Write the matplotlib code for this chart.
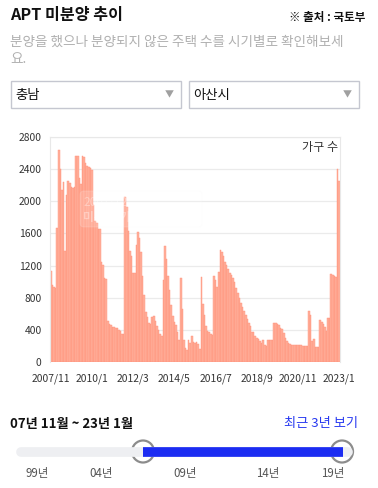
import matplotlib.pyplot as plt
from matplotlib.patches import FancyBboxPatch, Rectangle, Circle

plt.rcParams['font.family'] = ['Noto Sans CJK KR', 'DejaVu Sans']

# monthly unsold apartments (units), 2007/11 .. 2023/1
units = [
    1130, 960, 930, 920, 1670, 2640, 2400, 2145, 2240, 1380,
    2080, 2255, 2225, 2180, 2165, 2175, 2565, 2565, 2290, 2215,
    2560, 2545, 2475, 2445, 2425, 2410, 2395, 1955, 1750, 1725,
    1660, 1650, 1240, 1210, 1050, 1030, 515, 476, 455, 439,
    439, 418, 418, 400, 385, 352, 344, 2050, 1925, 1635,
    1387, 1325, 1110, 1110, 1450, 1620, 1545, 1370, 1076, 840,
    621, 560, 480, 468, 555, 575, 505, 443, 400, 350,
    320, 1018, 1449, 1288, 1076, 902, 704, 571, 500, 455,
    373, 269, 1050, 660, 268, 178, 150, 280, 240, 320,
    250, 240, 245, 228, 160, 1055, 720, 590, 443, 390,
    377, 344, 330, 1070, 1020, 935, 1120, 1390, 1370, 1320,
    1250, 1210, 1160, 1110, 1080, 1050, 990, 920, 860, 800,
    737, 683, 634, 580, 530, 489, 447, 373, 373, 323,
    302, 282, 261, 232, 269, 207, 199, 269, 269, 269,
    269, 480, 480, 478, 455, 426, 406, 364, 300, 260,
    240, 225, 215, 215, 215, 215, 215, 215, 212, 205,
    203, 203, 203, 635, 585, 256, 290, 190, 190, 190,
    525, 500, 475, 430, 390, 552, 552, 1093, 1084, 1070,
    1060, 2400, 2250,
]
x_labels = ['2007/11', '2010/1', '2012/3', '2014/5', '2016/7', '2018/9', '2020/11', '2023/1']
x_label_idx = [0, 26, 52, 78, 104, 130, 156, 182]
y_ticks = [0, 400, 800, 1200, 1600, 2000, 2400, 2800]
region = ['충남', '아산시']
period = '07년 11월 ~ 23년 1월'
slider_labels = ['99년', '04년', '09년', '14년', '19년']

W, H = 378, 488
fig = plt.figure(figsize=(W / 100, H / 100), dpi=100)

# chart
ax = fig.add_axes([50 / W, (H - 362) / H, 290 / W, 225 / H])
ax.bar(range(len(units)), units, width=1.0, align='edge',
       color='#ffb09c', edgecolor='#ff8f77', linewidth=0.3)
ax.set_xlim(0, len(units))
ax.set_ylim(0, 2800)
ax.set_yticks(y_ticks)
ax.set_yticklabels([str(v) for v in y_ticks], fontsize=7.4, color='#333333')
ax.set_xticks([i + 0.5 for i in x_label_idx])
ax.set_xticklabels(x_labels, fontsize=7.4, color='#333333')
ax.tick_params(length=0, pad=6)
ax.tick_params(axis='x', pad=8)
ax.yaxis.grid(True, color='#ebebeb', linewidth=0.9)
ax.set_axisbelow(True)
for s in ['top', 'left', 'right']:
    ax.spines[s].set_color('#e8e8e8')
    ax.spines[s].set_linewidth(0.8)
ax.spines['bottom'].set_visible(False)
ax.text(0.995, 0.955, '가구 수', transform=ax.transAxes, ha='right', va='center',
        fontsize=8.7, color='#333333')

# page elements in pixel coordinates
ui = fig.add_axes([0, 0, 1, 1], zorder=5)
ui.set_xlim(0, W)
ui.set_ylim(H, 0)
ui.axis('off')
ui.patch.set_alpha(0)

ui.text(10, 15, 'APT 미분양 추이', fontsize=11.6, fontweight='bold', va='center', color='#111111')
ui.text(365, 18, '※ 출처 : 국토부', fontsize=8.3, fontweight='bold', va='center', ha='right', color='#111111')
ui.text(10, 42, '분양을 했으나 분양되지 않은 주택 수를 시기별로 확인해보세',
        fontsize=9.8, va='center', color='#b0b0b0')
ui.text(10, 59, '요.', fontsize=9.8, va='center', color='#b0b0b0')

for x0, name in zip([10.5, 188.5], region):
    ui.add_patch(Rectangle((x0, 80.5), 170, 27, facecolor='white', edgecolor='#c5c7d0', linewidth=1))
    ui.text(x0 + 5, 95, name, fontsize=9.6, va='center', color='#111111')
    ui.text(x0 + 159, 95, '▼', fontsize=6.5, va='center', ha='center', color='#a0a0a0')

# fading tooltip
ui.add_patch(FancyBboxPatch((80, 191), 122, 36, boxstyle='round,pad=0,rounding_size=4',
                            facecolor='white', alpha=0.15, edgecolor='#f4f4f4', linewidth=0.8))
ui.text(83, 203, '2007/12', fontsize=8.5, va='center', color='#ffffff', alpha=0.35)
ui.text(83, 217, '미분양(가구 수) : 960', fontsize=8.5, va='center', color='#ffffff',
        fontweight='bold', alpha=0.35)

# period + slider
ui.text(10, 424, period, fontsize=9.5, fontweight='bold', va='center', color='#111111')
ui.text(358, 423, '최근 3년 보기', fontsize=9.5, va='center', ha='right', color='#2638f0')
ui.plot([21, 348], [451.5, 451.5], color='#eeeff2', linewidth=7, solid_capstyle='round')
ui.plot([143, 343], [451.5, 451.5], color='#1c2cf2', linewidth=7, solid_capstyle='butt')
for cx in [143, 342]:
    ui.add_patch(Circle((cx, 451.5), 11, facecolor='white', edgecolor='#8c8c8c', linewidth=1.6))
for lx, lab in zip([37, 101, 185, 268, 333], slider_labels):
    ui.text(lx, 474, lab, fontsize=8.3, va='center', ha='center', color='#555555')

fig.savefig('out.png', dpi=100)
